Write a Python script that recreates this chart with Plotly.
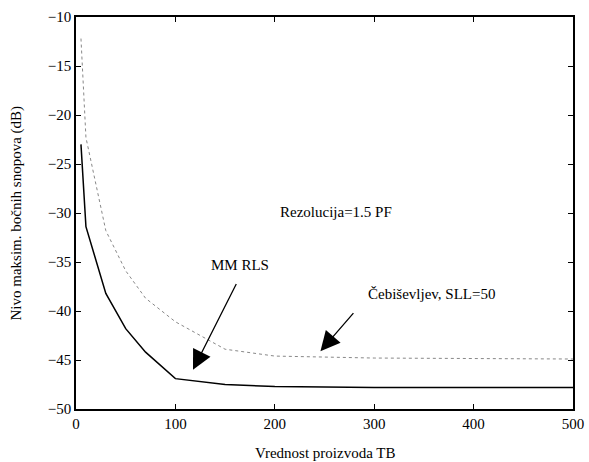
import plotly.graph_objects as go

tb = [5, 10, 30, 50, 70, 100, 150, 200, 300, 400, 500]
mm_rls = [-23.0, -31.4, -38.2, -41.8, -44.2, -46.9, -47.5, -47.7, -47.8, -47.8, -47.8]
cheb = [-12.2, -22.3, -31.8, -35.9, -38.7, -41.1, -43.9, -44.6, -44.8, -44.85, -44.9]

x_ticks = [0, 100, 200, 300, 400, 500]
y_ticks = [-50, -45, -40, -35, -30, -25, -20, -15, -10]

x_title = "Vrednost proizvoda TB"
y_title = "Nivo maksim. bočnih snopova (dB)"

FONT = "Liberation Serif"
TXT = dict(family=FONT, size=15, color="black")

fig = go.Figure()
fig.add_trace(go.Scatter(x=tb, y=cheb, mode="lines",
                         line=dict(color="#888888", width=1, dash="dot"),
                         showlegend=False))
fig.add_trace(go.Scatter(x=tb, y=mm_rls, mode="lines",
                         line=dict(color="black", width=1.5),
                         showlegend=False))

axis_common = dict(showline=True, linecolor="black", linewidth=1.5, mirror="ticks",
                   ticks="inside", ticklen=5, tickwidth=1, tickcolor="black",
                   showgrid=False, zeroline=False, automargin=False,
                   tickfont=TXT)

fig.update_xaxes(range=[0, 500], tickvals=x_ticks, **axis_common)
fig.update_yaxes(range=[-50, -10], tickvals=y_ticks, **axis_common)

# axis titles
fig.add_annotation(x=0.5, y=0, xref="paper", yref="paper", xanchor="center", yanchor="top",
                   yshift=-34, text=x_title, showarrow=False, font=TXT)
fig.add_annotation(x=0, y=0.5, xref="paper", yref="paper", xanchor="right", yanchor="middle",
                   xshift=-50, textangle=-90, text=y_title, showarrow=False, font=TXT)

fig.add_annotation(x=117.7, y=-46.0, ax=162, ay=-37.1, axref="x", ayref="y",
                   text="", showarrow=True, arrowhead=2, arrowsize=3, arrowwidth=1.3, arrowcolor="black")
fig.add_annotation(x=245.9, y=-44.1, ax=280.4, ay=-40.07, axref="x", ayref="y",
                   text="", showarrow=True, arrowhead=2, arrowsize=3, arrowwidth=1.3, arrowcolor="black")
fig.add_annotation(x=164.7, y=-35.3, text="MM RLS", showarrow=False, font=TXT)
fig.add_annotation(x=357.5, y=-38.3, text="Čebiševljev, SLL=50", showarrow=False, font=TXT)
fig.add_annotation(x=262, y=-29.9, text="Rezolucija=1.5 PF", showarrow=False, font=TXT)

fig.update_layout(width=589, height=462, margin=dict(l=76, r=16, t=17, b=53),
                  paper_bgcolor="white", plot_bgcolor="white",
                  font=dict(family=FONT))

fig.write_html("out.html")
